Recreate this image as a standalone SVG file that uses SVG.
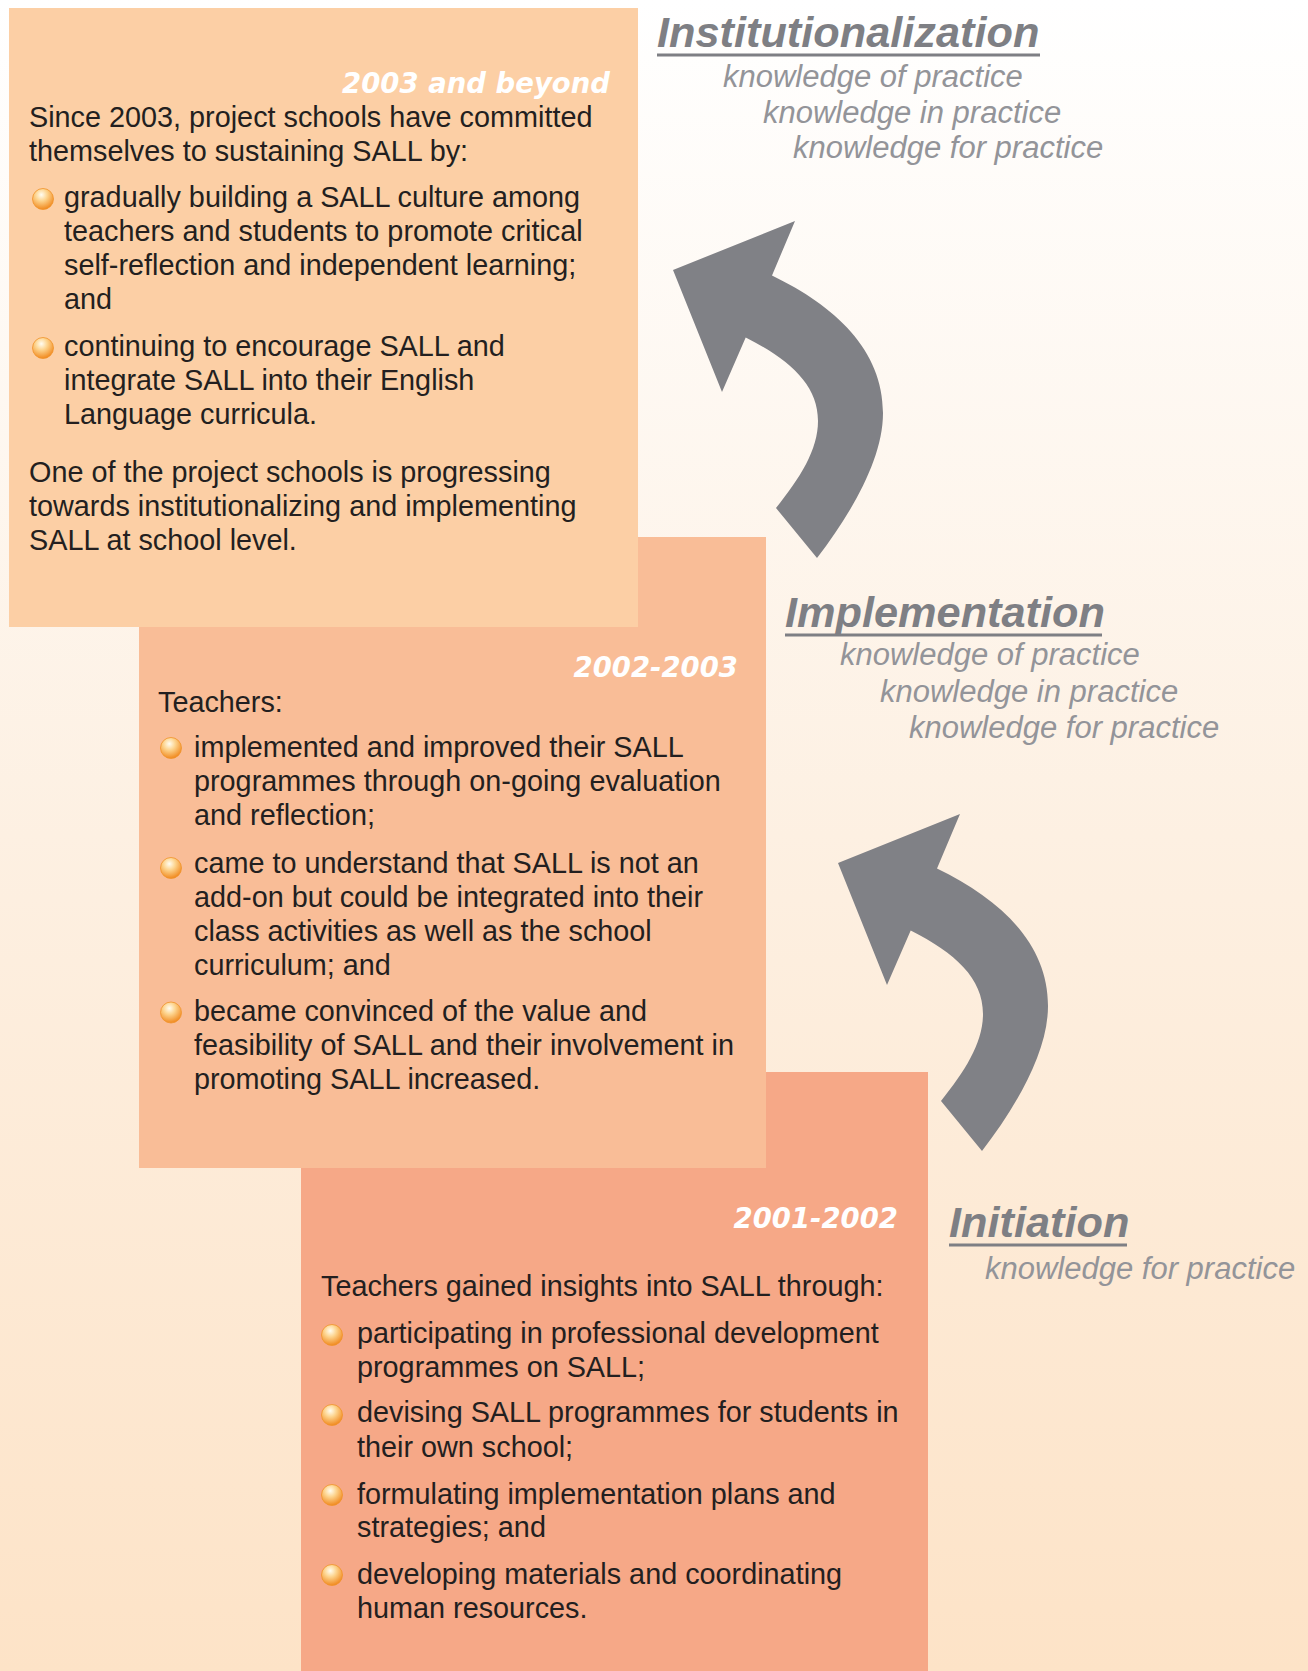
<svg xmlns="http://www.w3.org/2000/svg" width="1308" height="1671" viewBox="0 0 1308 1671">
<defs>
<linearGradient id="bg" x1="0" y1="0" x2="0" y2="1">
<stop offset="0" stop-color="#FFFFFF"/>
<stop offset="0.5" stop-color="#FDF0E2"/>
<stop offset="1" stop-color="#FDE3C7"/>
</linearGradient>
<radialGradient id="ball" cx="0.42" cy="0.3" r="0.72">
<stop offset="0" stop-color="#FFFDF2"/>
<stop offset="0.4" stop-color="#FDD48E"/>
<stop offset="1" stop-color="#F0861A"/>
</radialGradient>
<path id="arrow" d="M673 270 L795 221 L772 275.5 C835 306 883 350 883 413 C883 460 850 515 817 558 L776 508 C800 478 818 450 818 421 C818 385 790 360 745.7 337.5 L722 392 Z"/>
<circle id="b" r="10.5" fill="url(#ball)" stroke="#F0932A" stroke-width="0.8"/>
</defs>
<style>
.body{font-family:"Liberation Sans",Arial,sans-serif;font-size:28.8px;fill:#231F20}
.date{font-family:"DejaVu Sans",sans-serif;font-weight:bold;font-style:italic;font-size:27.5px;fill:#FFFFFF;text-anchor:end}
.head{font-family:"Liberation Sans",Arial,sans-serif;font-weight:bold;font-style:italic;font-size:43.3px;fill:#7E7F84}
.sub{font-family:"Liberation Sans",Arial,sans-serif;font-style:italic;font-size:31px;fill:#939499}
.ul{stroke:#7E7F84;stroke-width:3}
.arr{fill:#808186}
</style>
<rect x="0" y="0" width="1308" height="1671" fill="url(#bg)"/>

<g id="connectors">
<use href="#arrow" class="arr"/>
<use href="#arrow" class="arr" transform="translate(165 593)"/>
</g>

<g id="stage-initiation">
<rect x="301" y="1072" width="627" height="599" fill="#F6A887"/>
<text class="date" x="898" y="1228">2001-2002</text>
<text class="body" x="321" y="1296">Teachers gained insights into SALL through:</text>
<use href="#b" x="332" y="1335"/>
<text class="body" x="357" y="1342.5">participating in professional development</text>
<text class="body" x="357" y="1376.5">programmes on SALL;</text>
<use href="#b" x="332" y="1415"/>
<text class="body" x="357" y="1422">devising SALL programmes for students in</text>
<text class="body" x="357" y="1456.5">their own school;</text>
<use href="#b" x="332" y="1495"/>
<text class="body" x="357" y="1503.5">formulating implementation plans and</text>
<text class="body" x="357" y="1537">strategies; and</text>
<use href="#b" x="332" y="1575"/>
<text class="body" x="357" y="1584">developing materials and coordinating</text>
<text class="body" x="357" y="1617.5">human resources.</text>
</g>

<g id="stage-implementation">
<rect x="139" y="537" width="627" height="631" fill="#F9BD97"/>
<text class="date" x="738" y="676.5">2002-2003</text>
<text class="body" x="158" y="712">Teachers:</text>
<use href="#b" x="171" y="748"/>
<text class="body" x="194" y="757">implemented and improved their SALL</text>
<text class="body" x="194" y="791">programmes through on-going evaluation</text>
<text class="body" x="194" y="825">and reflection;</text>
<use href="#b" x="171" y="868"/>
<text class="body" x="194" y="872.5">came to understand that SALL is not an</text>
<text class="body" x="194" y="906.5">add-on but could be integrated into their</text>
<text class="body" x="194" y="940.5">class activities as well as the school</text>
<text class="body" x="194" y="974.5">curriculum; and</text>
<use href="#b" x="171" y="1012.5"/>
<text class="body" x="194" y="1021">became convinced of the value and</text>
<text class="body" x="194" y="1055">feasibility of SALL and their involvement in</text>
<text class="body" x="194" y="1089">promoting SALL increased.</text>
</g>

<g id="stage-institutionalization">
<rect x="9" y="8" width="629" height="619" fill="#FCCFA5"/>
<text class="date" x="610" y="93">2003 and beyond</text>
<text class="body" x="29" y="127">Since 2003, project schools have committed</text>
<text class="body" x="29" y="161">themselves to sustaining SALL by:</text>
<use href="#b" x="43" y="199"/>
<text class="body" x="64" y="207">gradually building a SALL culture among</text>
<text class="body" x="64" y="241">teachers and students to promote critical</text>
<text class="body" x="64" y="275">self-reflection and independent learning;</text>
<text class="body" x="64" y="309">and</text>
<use href="#b" x="43" y="348"/>
<text class="body" x="64" y="356">continuing to encourage SALL and</text>
<text class="body" x="64" y="390">integrate SALL into their English</text>
<text class="body" x="64" y="424">Language curricula.</text>
<text class="body" x="29" y="482">One of the project schools is progressing</text>
<text class="body" x="29" y="516">towards institutionalizing and implementing</text>
<text class="body" x="29" y="550">SALL at school level.</text>
</g>

<g id="label-institutionalization">
<text class="head" x="657" y="47">Institutionalization</text>
<line class="ul" x1="657" y1="55" x2="1040" y2="55"/>
<text class="sub" x="723" y="87">knowledge of practice</text>
<text class="sub" x="763" y="122.5">knowledge in practice</text>
<text class="sub" x="793" y="158">knowledge for practice</text>
</g>

<g id="label-implementation">
<text class="head" x="785" y="627">Implementation</text>
<line class="ul" x1="785" y1="635" x2="1102" y2="635"/>
<text class="sub" x="840" y="665">knowledge of practice</text>
<text class="sub" x="880" y="701.5">knowledge in practice</text>
<text class="sub" x="909" y="737.5">knowledge for practice</text>
</g>

<g id="label-initiation">
<text class="head" x="949" y="1237">Initiation</text>
<line class="ul" x1="949" y1="1245" x2="1127" y2="1245"/>
<text class="sub" x="985" y="1279">knowledge for practice</text>
</g>
</svg>
